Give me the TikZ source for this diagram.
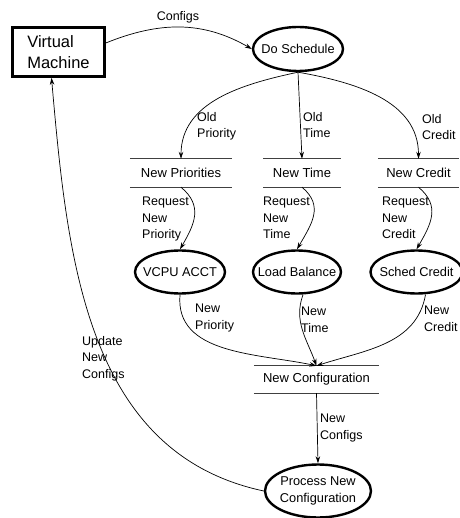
\documentclass[tikz,border=0pt]{standalone}
\usepackage{fontspec}
\setmainfont{Liberation Sans}
\usetikzlibrary{shapes.geometric,arrows.meta}
\begin{document}
\begin{tikzpicture}[x=1pt,y=-1pt,
  proc/.style={ellipse,draw,line width=2.4pt,inner xsep=-20pt,inner ysep=0pt,font=\fontsize{12.8}{15.5}\selectfont,align=center},
  store/.style={inner sep=0pt,font=\fontsize{13}{16}\selectfont},
  sline/.style={line width=0.7pt,draw=black!75},
  flow/.style={line width=0.7pt,-{Stealth[length=7pt,width=4.5pt]}},
  lbl/.style={anchor=north west,inner sep=0pt,align=left,font=\fontsize{12.5}{16.5}\selectfont}]
\useasboundingbox (0,0) rectangle (459,518);
% nodes
\node[draw,line width=2.6pt,minimum width=92pt,minimum height=49pt,align=left,
      font=\fontsize{16.5}{21}\selectfont,inner sep=0pt] (vm) at (58.5,52) {Virtual\\Machine};
\node[proc,minimum width=90pt,minimum height=44pt] (ds) at (298,49) {Do Schedule};
\node[store,minimum width=102pt,minimum height=28pt] (np) at (181,173) {New Priorities};
\node[store,minimum width=77pt,minimum height=28pt] (nt) at (302,173) {New Time};
\node[store,minimum width=81pt,minimum height=28pt] (ncr) at (418.5,173) {New Credit};
\node[proc,minimum width=90pt,minimum height=43pt] (vcpu) at (180,272) {VCPU ACCT};
\node[proc,minimum width=88pt,minimum height=43pt] (lb) at (297,272) {Load Balance};
\node[proc,minimum width=92pt,minimum height=43pt] (sc) at (416.5,272) {Sched Credit};
\node[store,minimum width=125pt,minimum height=27pt] (ncfg) at (316.5,379.5) {New Configuration};
\node[proc,minimum width=106pt,minimum height=53pt,font=\fontsize{12.8}{17}\selectfont] (pnc) at (318,491) {Process New\\Configuration};
% store lines
\foreach \s in {np,nt,ncr,ncfg}{
  \draw[sline] (\s.north west) -- (\s.north east);
  \draw[sline] (\s.south west) -- (\s.south east);
}
% connectors
\draw[flow] (vm.east |- 0,43) to[out=22,in=150] (ds.west);
\node[lbl,anchor=center] (l0) at (178,17) {Configs};
\draw[flow] (ds.south) to[out=192,in=90] (np.north);
\draw[flow] (ds.south) -- (nt.north);
\draw[flow] (ds.south) to[out=-10,in=90] (ncr.north);
\node[lbl] (l1) at (197,112) {Old\\Priority};
\node[lbl] (l2) at (303,112) {Old\\Time};
\node[lbl] (l3) at (422,114) {Old\\Credit};
\draw[flow] (np.south) to[out=-40,in=60,looseness=1.2] (vcpu.north);
\draw[flow] (nt.south) to[out=-40,in=60,looseness=1.2] (lb.north);
\draw[flow] (ncr.south) to[out=-40,in=60,looseness=1.2] (sc.north);
\node[lbl] (l4) at (142,197) {Request\\New\\Priority};
\node[lbl] (l5) at (263,197) {Request\\New\\Time};
\node[lbl] (l6) at (382,197) {Request\\New\\Credit};
\draw[flow] (vcpu.south) to[out=-95,in=168] (ncfg.north);
\draw[flow] ([xshift=6pt]lb.south) to[out=-110,in=110] (ncfg.north);
\draw[flow] ([xshift=9pt]sc.south) to[out=-100,in=18] (ncfg.north);
\node[lbl] (l7) at (195,304) {New\\Priority};
\node[lbl] (l8) at (301,307) {New\\Time};
\node[lbl] (l9) at (424,306) {New\\Credit};
\draw[flow] (ncfg.south) -- (pnc.north);
\node[lbl] (l10) at (320,414) {New\\Configs};
\draw[flow] (pnc.west) to[out=168,in=-85] ([xshift=-7pt]vm.south);
\node[lbl] (l11) at (82,336) {Update\\New\\Configs};
\end{tikzpicture}
\end{document}
